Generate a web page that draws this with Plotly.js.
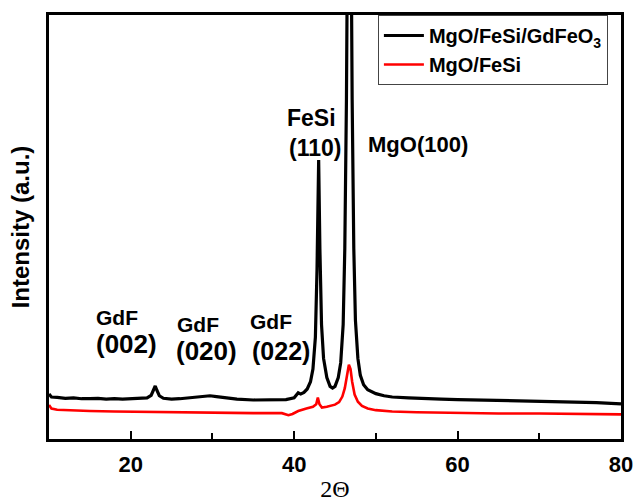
<!DOCTYPE html>
<html>
<head>
<meta charset="utf-8">
<script src="https://cdn.plot.ly/plotly-3.0.1.min.js"></script>
<style>
html,body{margin:0;padding:0;background:#fff;}
#chart{width:634px;height:503px;}
#chart .xtick text, #chart .xtick tspan{font-weight:700 !important;}
</style>
</head>
<body>
<div id="chart"></div>
<script>
// 2-theta positions and intensities (a.u.)
const blackX = [10,10.3,11,12,13,14,15,16,17,18,19,20,21,22,22.5,22.8,23.0,23.2,23.5,24,25,26,27,28,29,29.7,30.5,31.5,33,35,37,39,40,40.5,40.8,41.2,41.6,42,42.3,42.6,42.8,43.0,43.15,43.35,43.6,44,44.4,44.7,45,45.4,45.7,46.0,46.2,46.4,46.6,46.75,46.9,47.1,47.3,47.5,47.8,48.1,48.5,49,50,51,52,54,56,58,60,63,66,70,74,77,80];
const blackY = [10.6,9.9,9.8,9.6,9.7,9.5,9.5,9.6,9.4,9.5,9.4,9.5,9.6,9.7,10.3,11.6,12.5,11.5,10.2,9.6,9.4,9.5,9.7,9.9,10.1,10.2,10.0,9.7,9.4,9.2,9.2,9.3,9.7,10.9,10.6,11.0,11.8,13.5,16.5,24,40,65.8,45,27,19,14.5,12.4,12.0,12.4,14.5,18,27,45,80,140,160,140,80,45,28,19,15,12.8,11.6,10.7,10.2,9.9,9.7,9.5,9.4,9.3,9.2,9.1,8.9,8.7,8.6,8.3];
const redX = [10,10.3,11,13,15,18,21,25,30,35,38.5,39.3,39.8,40.5,41.5,42.3,42.7,42.9,43.1,43.4,44,44.5,45,45.5,45.9,46.2,46.5,46.7,46.9,47.1,47.4,47.8,48.3,49,50,52,55,60,65,70,75,80];
const redY = [8.0,7.2,6.9,6.7,6.6,6.5,6.4,6.3,6.2,6.1,6.1,5.6,5.9,6.6,7.2,7.6,8.2,9.8,8.2,7.4,7.6,7.9,8.1,8.7,10.0,12.0,15.5,17.5,16.5,13.5,10.5,8.8,7.8,7.2,6.8,6.5,6.3,6.1,6.0,6.0,5.9,5.8];
const seriesNames = ['MgO/FeSi/GdFeO<sub>3</sub>', 'MgO/FeSi'];
const xTicks = [20, 40, 60, 80];
const xTickText = xTicks.map(v => '<b>' + v + '</b>');

const traces = [
  {x: blackX, y: blackY, name: seriesNames[0], type: 'scatter', mode: 'lines',
   line: {color: '#000000', width: 3.2}},
  {x: redX, y: redY, name: seriesNames[1], type: 'scatter', mode: 'lines',
   line: {color: '#ff0000', width: 2.6}}
];

const FONT = 'Liberation Sans, Arial, sans-serif';
const ann = (x, y, text, size) => ({x: x, y: y, xref: 'x', yref: 'paper', text: '<b>' + text + '</b>',
  showarrow: false, font: {family: FONT, size: size, color: '#000'}});

const layout = {
  width: 634, height: 503,
  margin: {l: 49, r: 13, t: 15, b: 64},
  paper_bgcolor: '#ffffff', plot_bgcolor: '#ffffff',
  showlegend: true,
  font: {family: FONT, color: '#000'},
  xaxis: {
    range: [10, 80], tickvals: xTicks, ticktext: xTickText, ticks: 'inside', ticklen: 8, tickwidth: 2, tickcolor: '#000',
    ticklabelstandoff: 4,
    minor: {dtick: 10, tick0: 0, ticks: 'inside', ticklen: 6, tickwidth: 2, tickcolor: '#000'},
    showline: true, linewidth: 3, linecolor: '#000', mirror: true, showgrid: false, zeroline: false,
    tickfont: {family: FONT, size: 22, weight: 'bold', color: '#000'},
    title: {text: '2Θ', font: {family: 'Liberation Serif, Times New Roman, serif', size: 24, color: '#000'}, standoff: 4}
  },
  yaxis: {
    range: [0, 100], showticklabels: false, ticks: '', showgrid: false, zeroline: false,
    showline: true, linewidth: 3, linecolor: '#000', mirror: true,
    title: {text: '<b>Intensity (a.u.)</b>', font: {family: FONT, size: 24, color: '#000'}, standoff: 10}
  },
  legend: {
    x: 0.575, y: 1, xanchor: 'left', yanchor: 'top',
    bgcolor: '#ffffff', bordercolor: '#444', borderwidth: 1,
    font: {family: FONT, size: 20, weight: 'bold', color: '#000'},
    tracegroupgap: 0, itemwidth: 40
  },
  annotations: [
    ann(18.3, 0.255, 'GdF', 21), ann(19.5, 0.184, '(002)', 26),
    ann(28.2, 0.238, 'GdF', 21), ann(29.3, 0.167, '(020)', 26),
    ann(37.2, 0.245, 'GdF', 21), ann(38.4, 0.170, '(022)', 25),
    ann(42.1, 0.792, 'FeSi', 23), ann(42.55, 0.722, '(110)', 23),
    ann(55.2, 0.729, 'MgO(100)', 22)
  ]
};

Plotly.newPlot('chart', traces, layout, {displayModeBar: false, staticPlot: true});
</script>
</body>
</html>
